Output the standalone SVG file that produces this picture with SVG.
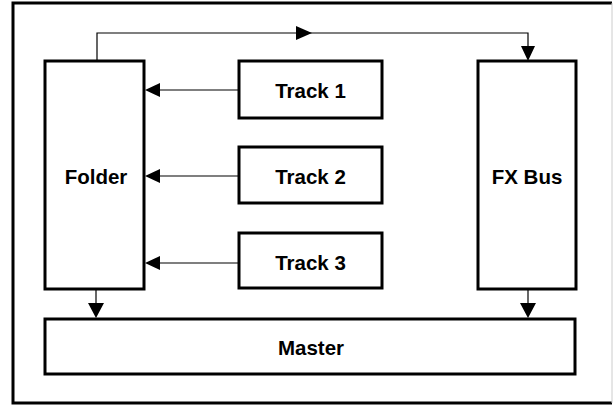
<svg xmlns="http://www.w3.org/2000/svg" width="613" height="406" viewBox="0 0 613 406">
<style>
.box{fill:#fff;stroke:#000;stroke-width:3}
.lbl{font-family:"Liberation Sans",Arial,sans-serif;font-weight:bold;font-size:20.5px;fill:#000;text-anchor:middle;dominant-baseline:central}
.con{fill:none;stroke:#000;stroke-width:1.2}
.ah{fill:#000}
</style>
<rect width="613" height="406" fill="#fff"/>
<g id="frame">
<path d="M612,3 H13 V403 H612" fill="none" stroke="#000" stroke-width="3"/>
<line x1="612" y1="3" x2="612" y2="403" stroke="#ccc" stroke-width="1"/>
</g>
<g id="connectors">
<path class="con" d="M97,61 V33 H528 V47"/>
<polygon class="ah" points="296,26 312,33 296,40"/>
<polygon class="ah" points="521,46 535,46 528,61"/>
<line class="con" x1="239" y1="90" x2="158" y2="90"/>
<polygon class="ah" points="145,90 160,83 160,97"/>
<line class="con" x1="239" y1="176" x2="158" y2="176"/>
<polygon class="ah" points="145,176 160,169 160,183"/>
<line class="con" x1="239" y1="263" x2="158" y2="263"/>
<polygon class="ah" points="145,263 160,256 160,270"/>
<line class="con" x1="96" y1="289" x2="96" y2="305"/>
<polygon class="ah" points="88,303 104,303 96,318"/>
<line class="con" x1="528" y1="289" x2="528" y2="305"/>
<polygon class="ah" points="520,303 536,303 528,318"/>
</g>
<g id="folder"><rect class="box" x="45" y="61" width="99" height="228"/><text class="lbl" x="96" y="176">Folder</text></g>
<g id="track1"><rect class="box" x="239" y="61" width="143" height="57"/><text class="lbl" x="310.5" y="90">Track 1</text></g>
<g id="track2"><rect class="box" x="239" y="147" width="143" height="56"/><text class="lbl" x="310.5" y="176">Track 2</text></g>
<g id="track3"><rect class="box" x="239" y="233" width="143" height="55"/><text class="lbl" x="310.5" y="262">Track 3</text></g>
<g id="fxbus"><rect class="box" x="478" y="61" width="98" height="228"/><text class="lbl" x="527" y="176">FX Bus</text></g>
<g id="master"><rect class="box" x="45" y="319" width="530" height="55"/><text class="lbl" x="311" y="347">Master</text></g>
</svg>
